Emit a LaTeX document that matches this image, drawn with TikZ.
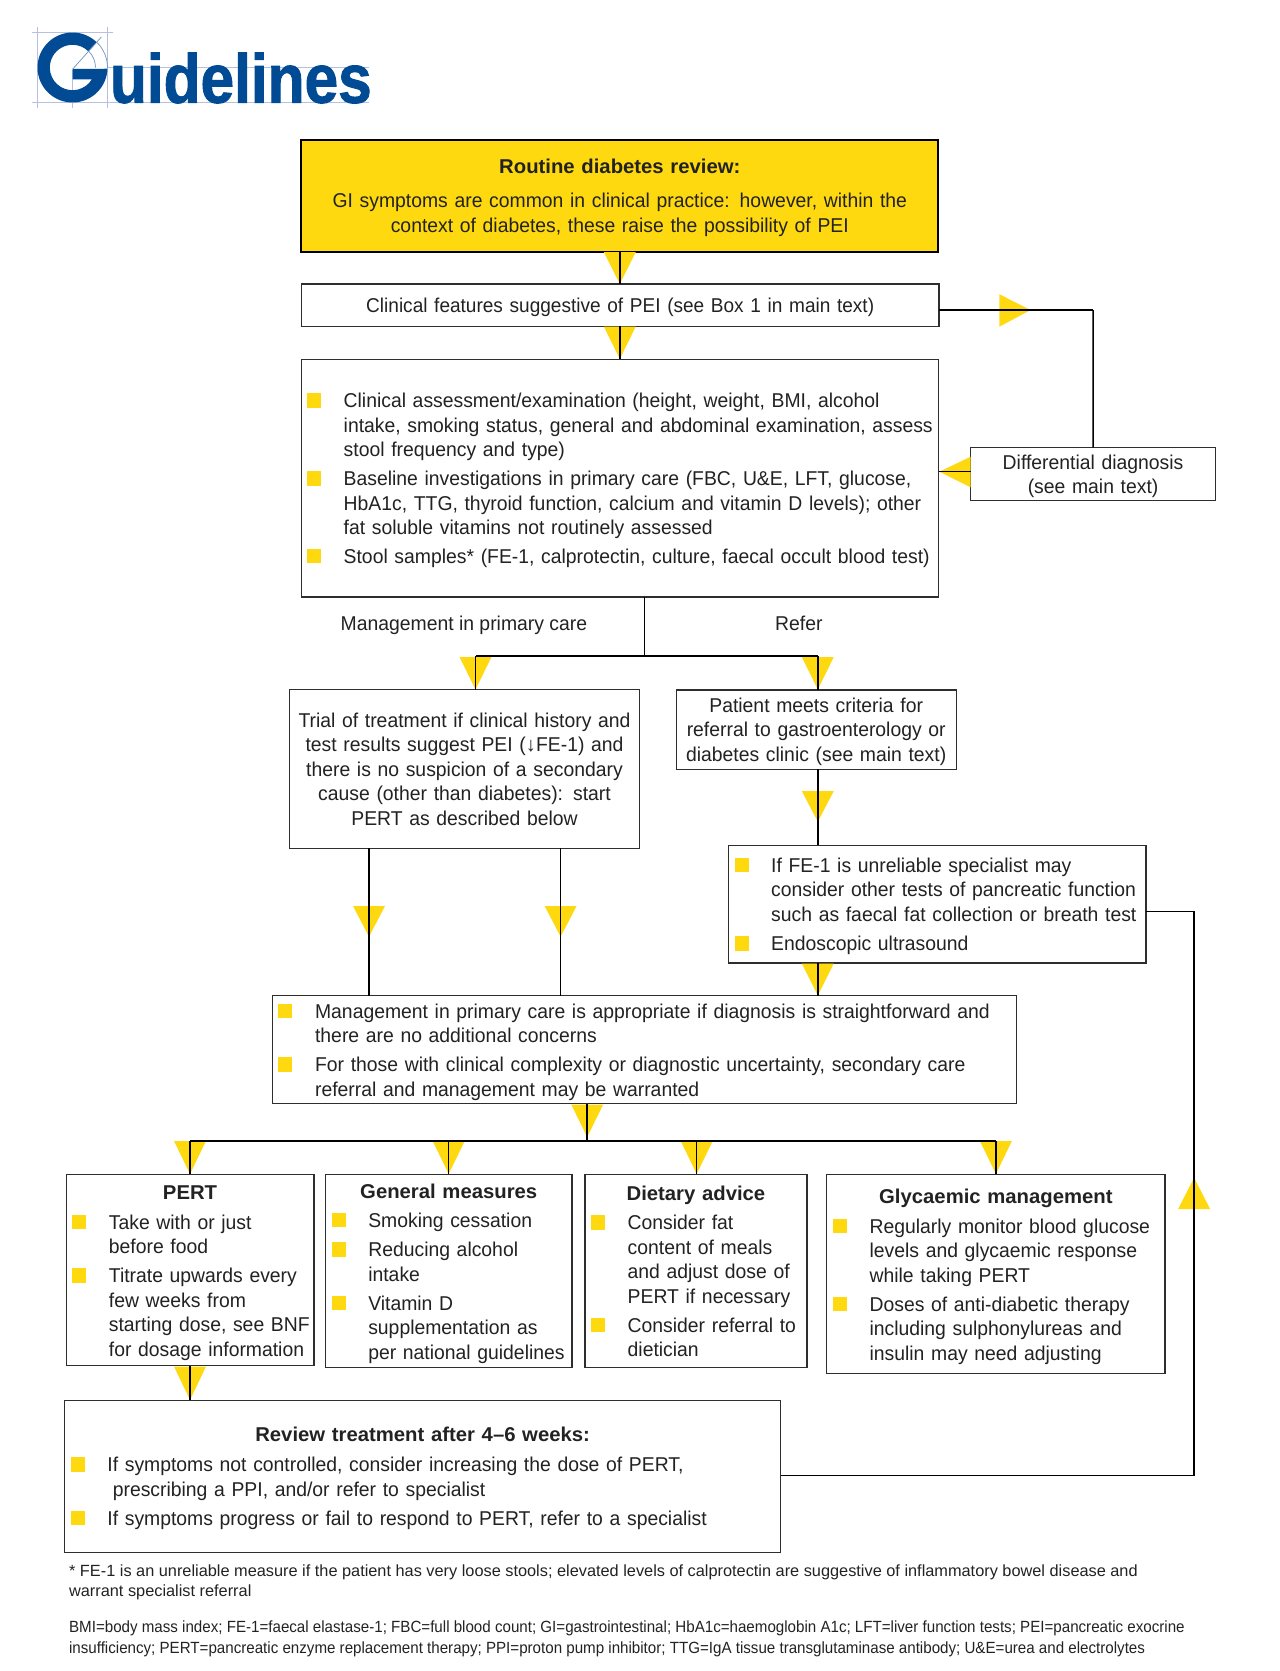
\documentclass[tikz,border=0pt]{standalone}
\usepackage{fontspec}
\usepackage{graphicx}
\setmainfont{Liberation Sans}[UprightFeatures={FakeStretch=0.968},BoldFeatures={FakeStretch=1.015}]
\newfontfamily\ffeat{Liberation Sans}[FakeStretch=0.952]
\newfontfamily\ffa{Liberation Sans}[FakeStretch=1.0075]
\newfontfamily\ffb{Liberation Sans}[FakeStretch=0.934]
\newfontfamily\logofont{Liberation Sans}[BoldFeatures={FakeBold=1.5}]
\definecolor{gold}{HTML}{FFD90F}
\definecolor{logoblue}{HTML}{004B93}
\definecolor{gridblue}{HTML}{B7C0E0}
\definecolor{inkk}{HTML}{222222}
\newcommand\tA[1]{\rule{0pt}{#1pt}}
\newcommand\tB[1]{\rule[-#1pt]{0pt}{#1pt}}
\newcommand\blt{\textcolor{gold}{\rule{14pt}{14.5pt}}}
\newlength\indw \setlength\indw{36.7pt}
\newcommand\bl[1]{\mbox{\makebox[\indw][l]{\blt}#1}}
\newcommand\il[1]{\mbox{\hspace*{\indw}#1}}
\newcommand\ttl[1]{\makebox[\linewidth][c]{\bfseries #1}}
\newcommand\bxnode[8]{%
 \pgfmathsetmacro\bw{#6-#4}\pgfmathsetmacro\bh{#7-#5}%
 \pgfmathsetmacro\bcx{(#4+#6)/2}\pgfmathsetmacro\bcy{(#5+#7)/2}%
 \pgfmathsetmacro\btw{#6-#4-2*#3}%
 \node[#2,inner xsep=#3 pt,minimum width=\bw pt,minimum height=\bh pt,text width=\btw pt] (#1) at (\bcx,\bcy) {#8};}
\newcommand\trid[3]{\fill[gold] (#1-16,#2) -- (#1+16,#2) -- (#1,#3) -- cycle;}
\tikzset{
 box/.style={draw=black!82,line width=1.2pt,fill=white,inner ysep=0pt,outer sep=0pt,align=left,text=inkk,font=\fontsize{20}{24.5}\selectfont},
 cbox/.style={box,align=center},
 conn/.style={draw=black,line width=1.5pt},
 bar/.style={draw=black,line width=2.2pt},
 plain/.style={inner sep=0pt,outer sep=0pt,text=inkk,font=\fontsize{20}{24.5}\selectfont},
 foot/.style={inner sep=0pt,outer sep=0pt,align=left,anchor=north west,text=inkk},
 gridl/.style={draw=gridblue,line width=1pt},
}
\begin{document}
\begin{tikzpicture}[x=1pt,y=-1pt]
\useasboundingbox (0,0) rectangle (1280,1671);
% logo
\draw[gridl] (32,32.7) -- (113,32.7) (37.7,27) -- (37.7,108) (107.3,27) -- (107.3,108) (72.5,70) -- (72.5,108)
  (32,102.7) -- (369,102.7) (107,67.3) -- (369,67.3);
\begin{scope}[shift={(72.5,67.5)}]
\fill[logoblue] (46:35pt) arc[start angle=46,end angle=358,radius=35pt] -- (0.2,1.5) -- (0.2,11.8) -- (-31.3:22.7pt)
  arc[start angle=-31.3,end angle=-314,radius=22.7pt] -- cycle;
\draw[draw=gridblue!60!logoblue,line width=.7pt] (46:35pt) arc[start angle=46,end angle=0,radius=35pt];
\draw[draw=gridblue!60!logoblue,line width=.7pt] (46:23pt) arc[start angle=46,end angle=0,radius=23pt];
\draw[draw=gridblue!60!logoblue,line width=.7pt] (0.2,1.5) -- (46.6:42pt);
\end{scope}
\node[inner sep=0pt,outer sep=0pt,anchor=base west,text=logoblue,font=\fontsize{69}{69}\selectfont\logofont\bfseries] (logo) at (110,102.7) {\scalebox{0.875}[1]{uidelines}};
% boxes
\bxnode{top}{cbox,fill=gold,draw=black,line width=2pt}{2}{301.4}{140}{938.2}{252}{\tA{33}\textbf{Routine diabetes review:}\\[10.2pt]GI symptoms are common in clinical practice: however, within the\\context of diabetes, these raise the possibility of PEI\tB{19.8}}
\bxnode{feat}{cbox}{2}{301.4}{284}{939}{326.3}{\ffeat\tA{28.3}Clinical features suggestive of PEI (see Box 1 in main text)\tB{14}}
\bxnode{big}{box}{5.6}{301.4}{359.3}{938.6}{596.7}{\tA{48.7}\bl{Clinical assessment/examination (height, weight, BMI, alcohol}\\\il{intake, smoking status, general and abdominal examination, assess}\\\il{stool frequency and type)}\\[4.2pt]\bl{Baseline investigations in primary care (FBC, U\&E, LFT, glucose,}\\\il{HbA1c, TTG, thyroid function, calcium and vitamin D levels); other}\\\il{fat soluble vitamins not routinely assessed}\\[4.2pt]\bl{Stool samples* (FE-1, calprotectin, culture, faecal occult blood test)}\tB{33.7}}
\bxnode{diff}{cbox}{2}{970.6}{447.3}{1215.5}{500.3}{\tA{21.7}Differential diagnosis\\(see main text)\tB{6.8}}
\bxnode{trial}{cbox}{2}{289.4}{689.7}{639.6}{848.3}{\tA{37.6}Trial of treatment if clinical history and\\test results suggest PEI (\textbf{↓}FE-1) and\\there is no suspicion of a secondary\\cause (other than diabetes): start\\PERT as described below\tB{23}}
\bxnode{pat}{cbox}{2}{676.3}{690}{956.1}{769.3}{\tA{22.3}Patient meets criteria for\\referral to gastroenterology or\\diabetes clinic (see main text)\tB{8}}
\bxnode{iffe}{box}{6.1}{728.4}{845.3}{1145.9}{963}{\tA{27}\bl{If FE-1 is unreliable specialist may}\\\il{consider other tests of pancreatic function}\\\il{such as faecal fat collection or breath test}\\[4.9pt]\bl{Endoscopic ultrasound}\tB{12.3}}
\bxnode{mgmt}{box}{6.2}{272.2}{995.7}{1016.1}{1103.7}{\tA{22.6}\bl{Management in primary care is appropriate if diagnosis is straightforward and}\\\il{there are no additional concerns}\\[4.4pt]\bl{For those with clinical complexity or diagnostic uncertainty, secondary care}\\\il{referral and management may be warranted}\tB{7.5}}
\bxnode{pert}{box}{6.1}{66.1}{1174.3}{314}{1365.7}{\tA{25}\ttl{PERT}\\[5.2pt]\bl{Take with or just}\\\il{before food}\\[4.7pt]\bl{Titrate upwards every}\\\il{few weeks from}\\\il{starting dose, see BNF}\\\il{for dosage information}\tB{9.5}}
\bxnode{gen}{box}{6.1}{325.5}{1174.3}{572}{1367.7}{\tA{24}\ttl{General measures}\\[4.5pt]\bl{Smoking cessation}\\[4.9pt]\bl{Reducing alcohol}\\\il{intake}\\[4.3pt]\bl{Vitamin D}\\\il{supplementation as}\\\il{per national guidelines}\tB{8.7}}
\bxnode{diet}{box}{6}{585}{1174.3}{806.9}{1367.7}{\tA{26.4}\ttl{Dietary advice}\\[4.5pt]\bl{Consider fat}\\\il{content of meals}\\\il{and adjust dose of}\\\il{PERT if necessary}\\[4.3pt]\bl{Consider referral to}\\\il{dietician}\tB{11.2}}
\bxnode{gly}{box}{6.1}{826.8}{1174.3}{1165}{1373.3}{\tA{29}\ttl{Glycaemic management}\\[5.5pt]\bl{Regularly monitor blood glucose}\\\il{levels and glycaemic response}\\\il{while taking PERT}\\[4.2pt]\bl{Doses of anti-diabetic therapy}\\\il{including sulphonylureas and}\\\il{insulin may need adjusting}\tB{13.3}}
\bxnode{rev}{box}{6.2}{64.5}{1400.3}{780.8}{1552.3}{\tA{41.4}\ttl{Review treatment after 4–6 weeks:}\\[5.5pt]\bl{If symptoms not controlled, consider increasing the dose of PERT,}\\\mbox{\hspace*{42.1pt}prescribing a PPI, and/or refer to specialist}\\[4.3pt]\bl{If symptoms progress or fail to respond to PERT, refer to a specialist}\tB{27.3}}
% labels
\node[plain,anchor=base] (lmp) at (463.9,630.7) {Management in primary care};
\node[plain,anchor=base] (lref) at (798.8,630.7) {Refer};
\node[foot,font=\fontsize{16.2}{20.7}\ffa] (fn1) at (69.1,1561) {\tA{15}* FE-1 is an unreliable measure if the patient has very loose stools; elevated levels of calprotectin are suggestive of inflammatory bowel disease and\\warrant specialist referral};
\node[foot,font=\fontsize{16.2}{20.7}\ffb] (fn2) at (69.1,1617.7) {\tA{15}BMI=body mass index; FE-1=faecal elastase-1; FBC=full blood count; GI=gastrointestinal; HbA1c=haemoglobin A1c; LFT=liver function tests; PEI=pancreatic exocrine\\insufficiency; PERT=pancreatic enzyme replacement therapy; PPI=proton pump inhibitor; TTG=IgA tissue transglutaminase antibody; U\&E=urea and electrolytes};
% triangles
\trid{619.8}{252}{284}
\trid{619.8}{326.5}{359}
\trid{475.5}{657}{689.5}
\trid{817.8}{657}{689.5}
\trid{817.8}{791}{821.7}
\trid{369}{906}{936.7}
\trid{560.6}{906}{936.7}
\trid{817.8}{963.5}{995.5}
\trid{587.2}{1104.5}{1137}
\trid{190}{1141}{1174}
\trid{448.7}{1141}{1174}
\trid{696.7}{1141}{1174}
\trid{995.9}{1141}{1174}
\trid{190}{1366.5}{1400}
\fill[gold] (999.4,294.3) -- (1030.6,310) -- (999.4,326.7) -- cycle;
\fill[gold] (970.6,456.7) -- (939.4,471.7) -- (970.6,487.3) -- cycle;
\fill[gold] (1178.1,1209) -- (1210.1,1209) -- (1194.1,1177.7) -- cycle;
% junctions
\coordinate (j0) at (644.5,656);
\coordinate (jl) at (475.5,656);
\coordinate (jr) at (817.8,656);
\coordinate (m0) at (587.2,1141);
\coordinate (m1) at (190,1141);
\coordinate (m2) at (448.7,1141);
\coordinate (m3) at (696.7,1141);
\coordinate (m4) at (995.9,1141);
\coordinate (t1) at (369,848.3);
\coordinate (t2) at (560.6,848.3);
\coordinate (r1) at (1194.1,911.7);
\coordinate (r2) at (1194.1,1475.3);
\coordinate (d1) at (939,310);
\coordinate (d2) at (1093,310);
\coordinate (d3) at (939,471.7);
% connectors
\draw[conn] (top.south) -- (top.south |- feat.north);
\draw[conn] (top.south |- feat.south) -- (top.south |- big.north);
\draw[conn] (d2) -- (diff.north);
\draw[bar] (d1) -- (d2);
\draw[conn] (diff.west |- d3) -- (d3);
\draw[conn] (j0 |- big.south) -- (j0);
\draw[bar] (jl) -- (jr);
\draw[conn] (jl) -- (jl |- trial.north);
\draw[conn] (jr) -- (jr |- pat.north);
\draw[conn] (jr |- pat.south) -- (jr |- iffe.north);
\draw[conn] (jr |- iffe.south) -- (jr |- mgmt.north);
\draw[conn] (t1) -- (t1 |- mgmt.north);
\draw[conn] (t2) -- (t2 |- mgmt.north);
\draw[conn] (m0 |- mgmt.south) -- (m0);
\draw[bar] (m1) -- (m4);
\draw[conn] (m1) -- (m1 |- pert.north);
\draw[conn] (m2) -- (m2 |- gen.north);
\draw[conn] (m3) -- (m3 |- diet.north);
\draw[conn] (m4) -- (m4 |- gly.north);
\draw[conn] (m1 |- pert.south) -- (m1 |- rev.north);
\draw[conn] (iffe.east |- r1) -- (r1) -- (r2) -- (rev.east |- r2);
\end{tikzpicture}
\end{document}
